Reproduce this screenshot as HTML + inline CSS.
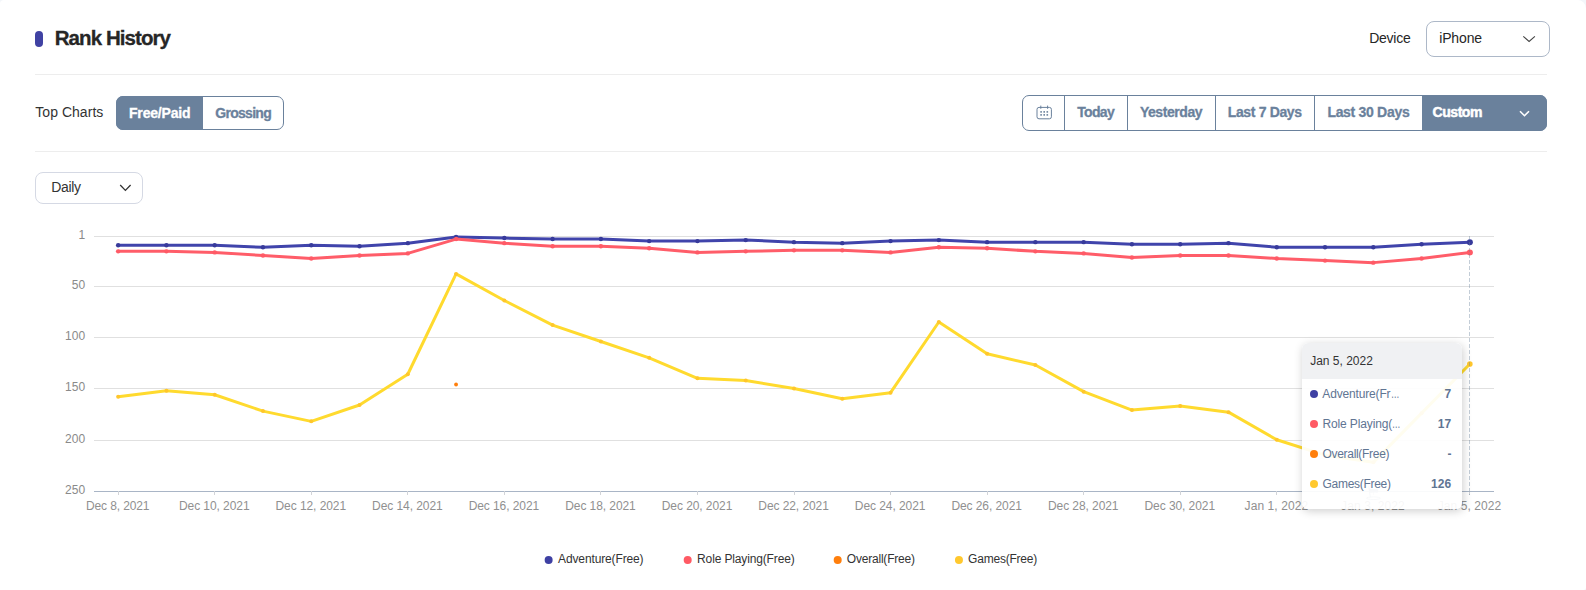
<!DOCTYPE html>
<html lang="en">
<head>
<meta charset="utf-8">
<title>Rank History</title>
<style>
html,body{margin:0;padding:0;}
body{width:1586px;height:590px;overflow:hidden;background:#f3f6fa;font-family:"Liberation Sans", sans-serif;position:relative;}
.card{position:absolute;left:0;top:0;width:1586px;height:590px;background:#fff;border-radius:4px 8.5px 3px 0;overflow:hidden;}
.t{position:absolute;white-space:nowrap;line-height:20px;font-family:"Liberation Sans", sans-serif;}
.abs{position:absolute;box-sizing:border-box;}
.hr{position:absolute;left:35px;width:1512px;height:1px;background:#ededed;}
.chart{position:absolute;left:0;top:0;}
.tooltip{position:absolute;left:1302px;top:343px;width:160px;height:166px;border-radius:6px;background:rgba(255,255,255,0.925);box-shadow:1px 2px 10px rgba(0,0,0,0.2);overflow:hidden;}
.tooltip .hd{position:absolute;left:0;top:0;width:160px;height:36px;background:rgba(240,241,243,0.98);}
.dot{position:absolute;width:8px;height:8px;border-radius:50%;}
</style>
</head>
<body>
<div class="card">
  <div class="abs" style="left:35px;top:31px;width:8px;height:16px;border-radius:4px;background:#4042a3;"></div>
  <div class="hr" style="top:74px;"></div>
  <div class="hr" style="top:151px;"></div>

  <!-- Top charts segmented -->
  <div class="abs" style="left:116px;top:96px;width:168px;height:34px;border:1px solid #6a819c;border-radius:7px;background:#fff;"></div>
  <div class="abs" style="left:116px;top:96px;width:87px;height:34px;border-radius:7px 0 0 7px;background:#6a819c;"></div>

  <!-- Daily select -->
  <div class="abs" style="left:35px;top:172px;width:108px;height:32px;border:1px solid #d5d9e4;border-radius:8px;background:#fff;"></div>
  <svg class="abs" style="left:118px;top:181px;" width="14" height="12" viewBox="0 0 14 12"><polyline points="2.2,4.0 7.4,9.4 12.6,4.0" fill="none" stroke="#333" stroke-width="1.3"/></svg>

  <!-- Device select -->
  <div class="abs" style="left:1426px;top:21px;width:124px;height:36px;border:1px solid #adb8c8;border-radius:8px;background:#fff;"></div>
  <svg class="abs" style="left:1521px;top:32px;" width="16" height="12" viewBox="0 0 16 12"><polyline points="2.3,4.3 8.1,9.5 13.9,4.3" fill="none" stroke="#444" stroke-width="1.1"/></svg>

  <!-- Date range group -->
  <div class="abs" style="left:1022px;top:95px;width:525px;height:36px;border:1px solid #6a819c;border-radius:7px;background:#fff;"></div>
  <div class="abs" style="left:1064px;top:95px;width:1px;height:36px;background:#6a819c;"></div>
  <div class="abs" style="left:1127px;top:95px;width:1px;height:36px;background:#6a819c;"></div>
  <div class="abs" style="left:1215px;top:95px;width:1px;height:36px;background:#6a819c;"></div>
  <div class="abs" style="left:1314px;top:95px;width:1px;height:36px;background:#6a819c;"></div>
  <div class="abs" style="left:1422px;top:95px;width:125px;height:36px;border-radius:0 7px 7px 0;background:#6a819c;"></div>
  <svg class="abs" style="left:1517px;top:107px;" width="16" height="12" viewBox="0 0 16 12"><polyline points="3,4.2 7.5,8.7 12,4.2" fill="none" stroke="#fff" stroke-width="1.6"/></svg>
  <svg class="abs" style="left:1034px;top:103px;" width="20" height="18" viewBox="0 0 20 18">
    <rect x="3" y="4.4" width="14.4" height="11.4" rx="2" ry="2" fill="none" stroke="#6a819c" stroke-width="1"/>
    <line x1="6.8" x2="6.8" y1="2.6" y2="5.8" stroke="#6a819c" stroke-width="1"/>
    <line x1="13.6" x2="13.6" y1="2.6" y2="5.8" stroke="#6a819c" stroke-width="1"/>
    <g fill="#6a819c">
      <rect x="6.3" y="8.1" width="1.6" height="1.6"/><rect x="9.4" y="8.1" width="1.6" height="1.6"/><rect x="12.5" y="8.1" width="1.6" height="1.6"/>
      <rect x="6.3" y="11.1" width="1.6" height="1.6"/><rect x="9.4" y="11.1" width="1.6" height="1.6"/><rect x="12.5" y="11.1" width="1.6" height="1.6"/>
    </g>
  </svg>

<svg class="chart" width="1586" height="590" viewBox="0 0 1586 590">
<line x1="94.0" x2="1494.0" y1="236.5" y2="236.5" stroke="#e0e0e0" stroke-width="1"/>
<line x1="94.0" x2="1494.0" y1="286.5" y2="286.5" stroke="#e0e0e0" stroke-width="1"/>
<line x1="94.0" x2="1494.0" y1="337.5" y2="337.5" stroke="#e0e0e0" stroke-width="1"/>
<line x1="94.0" x2="1494.0" y1="388.5" y2="388.5" stroke="#e0e0e0" stroke-width="1"/>
<line x1="94.0" x2="1494.0" y1="440.5" y2="440.5" stroke="#e0e0e0" stroke-width="1"/>
<line x1="94.0" x2="1494.0" y1="491.5" y2="491.5" stroke="#a9b5c6" stroke-width="1"/>
<line x1="118.5" x2="118.5" y1="491" y2="495" stroke="#d2d4d8" stroke-width="1"/>
<line x1="214.5" x2="214.5" y1="491" y2="495" stroke="#d2d4d8" stroke-width="1"/>
<line x1="311.5" x2="311.5" y1="491" y2="495" stroke="#d2d4d8" stroke-width="1"/>
<line x1="407.5" x2="407.5" y1="491" y2="495" stroke="#d2d4d8" stroke-width="1"/>
<line x1="504.5" x2="504.5" y1="491" y2="495" stroke="#d2d4d8" stroke-width="1"/>
<line x1="600.5" x2="600.5" y1="491" y2="495" stroke="#d2d4d8" stroke-width="1"/>
<line x1="697.5" x2="697.5" y1="491" y2="495" stroke="#d2d4d8" stroke-width="1"/>
<line x1="794.5" x2="794.5" y1="491" y2="495" stroke="#d2d4d8" stroke-width="1"/>
<line x1="890.5" x2="890.5" y1="491" y2="495" stroke="#d2d4d8" stroke-width="1"/>
<line x1="987.5" x2="987.5" y1="491" y2="495" stroke="#d2d4d8" stroke-width="1"/>
<line x1="1083.5" x2="1083.5" y1="491" y2="495" stroke="#d2d4d8" stroke-width="1"/>
<line x1="1180.5" x2="1180.5" y1="491" y2="495" stroke="#d2d4d8" stroke-width="1"/>
<line x1="1276.5" x2="1276.5" y1="491" y2="495" stroke="#d2d4d8" stroke-width="1"/>
<line x1="1373.5" x2="1373.5" y1="491" y2="495" stroke="#d2d4d8" stroke-width="1"/>
<line x1="1469.5" x2="1469.5" y1="491" y2="495" stroke="#d2d4d8" stroke-width="1"/>
<polyline points="118.14,245.22 166.41,245.22 214.69,245.22 262.97,247.27 311.24,245.22 359.52,246.24 407.79,243.17 456.07,237.02 504.34,238.05 552.62,239.07 600.90,239.07 649.17,241.12 697.45,241.12 745.72,240.10 794.00,242.14 842.28,243.17 890.55,241.12 938.83,240.10 987.10,242.14 1035.38,242.14 1083.66,242.14 1131.93,244.19 1180.21,244.19 1228.48,243.17 1276.76,247.27 1325.03,247.27 1373.31,247.27 1421.59,244.19 1469.86,242.14" fill="none" stroke="#4044ab" stroke-width="3" stroke-linejoin="bevel" stroke-linecap="butt"/>
<circle cx="118.14" cy="245.22" r="2.2" fill="#373a9b"/><circle cx="166.41" cy="245.22" r="2.2" fill="#373a9b"/><circle cx="214.69" cy="245.22" r="2.2" fill="#373a9b"/><circle cx="262.97" cy="247.27" r="2.2" fill="#373a9b"/><circle cx="311.24" cy="245.22" r="2.2" fill="#373a9b"/><circle cx="359.52" cy="246.24" r="2.2" fill="#373a9b"/><circle cx="407.79" cy="243.17" r="2.2" fill="#373a9b"/><circle cx="456.07" cy="237.02" r="2.2" fill="#373a9b"/><circle cx="504.34" cy="238.05" r="2.2" fill="#373a9b"/><circle cx="552.62" cy="239.07" r="2.2" fill="#373a9b"/><circle cx="600.90" cy="239.07" r="2.2" fill="#373a9b"/><circle cx="649.17" cy="241.12" r="2.2" fill="#373a9b"/><circle cx="697.45" cy="241.12" r="2.2" fill="#373a9b"/><circle cx="745.72" cy="240.10" r="2.2" fill="#373a9b"/><circle cx="794.00" cy="242.14" r="2.2" fill="#373a9b"/><circle cx="842.28" cy="243.17" r="2.2" fill="#373a9b"/><circle cx="890.55" cy="241.12" r="2.2" fill="#373a9b"/><circle cx="938.83" cy="240.10" r="2.2" fill="#373a9b"/><circle cx="987.10" cy="242.14" r="2.2" fill="#373a9b"/><circle cx="1035.38" cy="242.14" r="2.2" fill="#373a9b"/><circle cx="1083.66" cy="242.14" r="2.2" fill="#373a9b"/><circle cx="1131.93" cy="244.19" r="2.2" fill="#373a9b"/><circle cx="1180.21" cy="244.19" r="2.2" fill="#373a9b"/><circle cx="1228.48" cy="243.17" r="2.2" fill="#373a9b"/><circle cx="1276.76" cy="247.27" r="2.2" fill="#373a9b"/><circle cx="1325.03" cy="247.27" r="2.2" fill="#373a9b"/><circle cx="1373.31" cy="247.27" r="2.2" fill="#373a9b"/><circle cx="1421.59" cy="244.19" r="2.2" fill="#373a9b"/><circle cx="1469.86" cy="242.14" r="3.0" fill="#373a9b"/>
<polyline points="118.14,251.36 166.41,251.36 214.69,252.39 262.97,255.46 311.24,258.53 359.52,255.46 407.79,253.41 456.07,239.07 504.34,243.17 552.62,246.24 600.90,246.24 649.17,248.29 697.45,252.39 745.72,251.36 794.00,250.34 842.28,250.34 890.55,252.39 938.83,247.27 987.10,248.29 1035.38,251.36 1083.66,253.41 1131.93,257.51 1180.21,255.46 1228.48,255.46 1276.76,258.53 1325.03,260.58 1373.31,262.63 1421.59,258.53 1469.86,252.39" fill="none" stroke="#ff5d69" stroke-width="3" stroke-linejoin="bevel" stroke-linecap="butt"/>
<circle cx="118.14" cy="251.36" r="2.2" fill="#ff5a66"/><circle cx="166.41" cy="251.36" r="2.2" fill="#ff5a66"/><circle cx="214.69" cy="252.39" r="2.2" fill="#ff5a66"/><circle cx="262.97" cy="255.46" r="2.2" fill="#ff5a66"/><circle cx="311.24" cy="258.53" r="2.2" fill="#ff5a66"/><circle cx="359.52" cy="255.46" r="2.2" fill="#ff5a66"/><circle cx="407.79" cy="253.41" r="2.2" fill="#ff5a66"/><circle cx="456.07" cy="239.07" r="2.2" fill="#ff5a66"/><circle cx="504.34" cy="243.17" r="2.2" fill="#ff5a66"/><circle cx="552.62" cy="246.24" r="2.2" fill="#ff5a66"/><circle cx="600.90" cy="246.24" r="2.2" fill="#ff5a66"/><circle cx="649.17" cy="248.29" r="2.2" fill="#ff5a66"/><circle cx="697.45" cy="252.39" r="2.2" fill="#ff5a66"/><circle cx="745.72" cy="251.36" r="2.2" fill="#ff5a66"/><circle cx="794.00" cy="250.34" r="2.2" fill="#ff5a66"/><circle cx="842.28" cy="250.34" r="2.2" fill="#ff5a66"/><circle cx="890.55" cy="252.39" r="2.2" fill="#ff5a66"/><circle cx="938.83" cy="247.27" r="2.2" fill="#ff5a66"/><circle cx="987.10" cy="248.29" r="2.2" fill="#ff5a66"/><circle cx="1035.38" cy="251.36" r="2.2" fill="#ff5a66"/><circle cx="1083.66" cy="253.41" r="2.2" fill="#ff5a66"/><circle cx="1131.93" cy="257.51" r="2.2" fill="#ff5a66"/><circle cx="1180.21" cy="255.46" r="2.2" fill="#ff5a66"/><circle cx="1228.48" cy="255.46" r="2.2" fill="#ff5a66"/><circle cx="1276.76" cy="258.53" r="2.2" fill="#ff5a66"/><circle cx="1325.03" cy="260.58" r="2.2" fill="#ff5a66"/><circle cx="1373.31" cy="262.63" r="2.2" fill="#ff5a66"/><circle cx="1421.59" cy="258.53" r="2.2" fill="#ff5a66"/><circle cx="1469.86" cy="252.39" r="3.0" fill="#ff5a66"/>
<circle cx="456.07" cy="384.49" r="1.9" fill="#ff7f0c"/>
<polyline points="118.14,396.78 166.41,390.64 214.69,394.73 262.97,411.12 311.24,421.36 359.52,404.98 407.79,374.25 456.07,273.89 504.34,300.52 552.62,325.10 600.90,341.48 649.17,357.87 697.45,378.35 745.72,380.40 794.00,388.59 842.28,398.83 890.55,392.69 938.83,322.02 987.10,353.77 1035.38,365.04 1083.66,391.66 1131.93,410.10 1180.21,406.00 1228.48,412.14 1276.76,439.80 1325.03,455.16 1373.31,462.33 1421.59,413.17 1469.86,364.01" fill="none" stroke="#ffda2e" stroke-width="3" stroke-linejoin="bevel"/>
<circle cx="118.14" cy="396.78" r="2.0" fill="#ffc62c"/><circle cx="166.41" cy="390.64" r="2.0" fill="#ffc62c"/><circle cx="214.69" cy="394.73" r="2.0" fill="#ffc62c"/><circle cx="262.97" cy="411.12" r="2.0" fill="#ffc62c"/><circle cx="311.24" cy="421.36" r="2.0" fill="#ffc62c"/><circle cx="359.52" cy="404.98" r="2.0" fill="#ffc62c"/><circle cx="407.79" cy="374.25" r="2.0" fill="#ffc62c"/><circle cx="456.07" cy="273.89" r="2.0" fill="#ffc62c"/><circle cx="504.34" cy="300.52" r="2.0" fill="#ffc62c"/><circle cx="552.62" cy="325.10" r="2.0" fill="#ffc62c"/><circle cx="600.90" cy="341.48" r="2.0" fill="#ffc62c"/><circle cx="649.17" cy="357.87" r="2.0" fill="#ffc62c"/><circle cx="697.45" cy="378.35" r="2.0" fill="#ffc62c"/><circle cx="745.72" cy="380.40" r="2.0" fill="#ffc62c"/><circle cx="794.00" cy="388.59" r="2.0" fill="#ffc62c"/><circle cx="842.28" cy="398.83" r="2.0" fill="#ffc62c"/><circle cx="890.55" cy="392.69" r="2.0" fill="#ffc62c"/><circle cx="938.83" cy="322.02" r="2.0" fill="#ffc62c"/><circle cx="987.10" cy="353.77" r="2.0" fill="#ffc62c"/><circle cx="1035.38" cy="365.04" r="2.0" fill="#ffc62c"/><circle cx="1083.66" cy="391.66" r="2.0" fill="#ffc62c"/><circle cx="1131.93" cy="410.10" r="2.0" fill="#ffc62c"/><circle cx="1180.21" cy="406.00" r="2.0" fill="#ffc62c"/><circle cx="1228.48" cy="412.14" r="2.0" fill="#ffc62c"/><circle cx="1276.76" cy="439.80" r="2.0" fill="#ffc62c"/><circle cx="1325.03" cy="455.16" r="2.0" fill="#ffc62c"/><circle cx="1373.31" cy="462.33" r="2.0" fill="#ffc62c"/><circle cx="1421.59" cy="413.17" r="2.0" fill="#ffc62c"/><circle cx="1469.86" cy="364.01" r="2.8" fill="#ffc62c"/>
<line x1="1469.5" x2="1469.5" y1="236" y2="495" stroke="#6a819c" stroke-opacity="0.4" stroke-width="1" stroke-dasharray="4 2"/>
<g fill="#8fa0b6" stroke="none"><path d="M1368.2 486.3 L1369.2 486.1 L1370.9 497.2 L1369.9 497.4 Z"/><path d="M1369 488.2 C1372 489.6 1375 488.4 1378.6 489.6 L1377.4 493 C1374.5 492 1372 493.2 1369.8 492.6 Z"/><ellipse cx="1373.4" cy="498.2" rx="7" ry="1.3" fill="none" stroke="#8fa0b6" stroke-width="0.9"/></g>
<circle cx="548.65" cy="560" r="4" fill="#3e40a3"/>
<circle cx="687.7" cy="560" r="4" fill="#ff5a64"/>
<circle cx="837.7" cy="560" r="4" fill="#ff7f0c"/>
<circle cx="958.95" cy="560" r="4" fill="#ffc82e"/>
</svg>

<span class="t" style="left:54.70px;top:27.90px;font-size:20.5px;font-weight:700;color:#262626;letter-spacing:-0.923px;-webkit-text-stroke:0.3px #262626;">Rank History</span>
<span class="t" style="left:35.30px;top:102.35px;font-size:14px;font-weight:400;color:#333;letter-spacing:0.034px;">Top Charts</span>
<span class="t" style="left:129.00px;top:102.75px;font-size:14px;font-weight:700;color:#fff;letter-spacing:-0.184px;-webkit-text-stroke:0.3px #fff;">Free/Paid</span>
<span class="t" style="left:215.20px;top:102.75px;font-size:14px;font-weight:700;color:#6a819c;letter-spacing:-0.700px;-webkit-text-stroke:0.3px #6a819c;">Grossing</span>
<span class="t" style="left:51.20px;top:177.15px;font-size:14px;font-weight:400;color:#333;letter-spacing:-0.329px;">Daily</span>
<span class="t" style="left:1369.20px;top:28.35px;font-size:14px;font-weight:400;color:#262626;letter-spacing:-0.241px;">Device</span>
<span class="t" style="left:1439.20px;top:28.35px;font-size:14px;font-weight:400;color:#262626;letter-spacing:-0.141px;">iPhone</span>
<span class="t" style="left:1077.20px;top:102.35px;font-size:14px;font-weight:700;color:#6a819c;letter-spacing:-0.676px;-webkit-text-stroke:0.3px #6a819c;">Today</span>
<span class="t" style="left:1139.90px;top:102.35px;font-size:14px;font-weight:700;color:#6a819c;letter-spacing:-0.434px;-webkit-text-stroke:0.3px #6a819c;">Yesterday</span>
<span class="t" style="left:1227.70px;top:102.35px;font-size:14px;font-weight:700;color:#6a819c;letter-spacing:-0.343px;-webkit-text-stroke:0.3px #6a819c;">Last 7 Days</span>
<span class="t" style="left:1327.40px;top:102.35px;font-size:14px;font-weight:700;color:#6a819c;letter-spacing:-0.302px;-webkit-text-stroke:0.3px #6a819c;">Last 30 Days</span>
<span class="t" style="left:1432.60px;top:102.35px;font-size:14px;font-weight:700;color:#fff;letter-spacing:-0.472px;-webkit-text-stroke:0.5px #fff;">Custom</span>
<span class="t" style="left:78.40px;top:224.64px;font-size:12px;font-weight:400;color:#8a8a8a;letter-spacing:0.000px;">1</span>
<span class="t" style="left:71.73px;top:274.64px;font-size:12px;font-weight:400;color:#8a8a8a;letter-spacing:0.000px;">50</span>
<span class="t" style="left:65.05px;top:325.64px;font-size:12px;font-weight:400;color:#8a8a8a;letter-spacing:0.000px;">100</span>
<span class="t" style="left:65.05px;top:376.64px;font-size:12px;font-weight:400;color:#8a8a8a;letter-spacing:0.000px;">150</span>
<span class="t" style="left:65.05px;top:428.64px;font-size:12px;font-weight:400;color:#8a8a8a;letter-spacing:0.000px;">200</span>
<span class="t" style="left:65.05px;top:479.64px;font-size:12px;font-weight:400;color:#8a8a8a;letter-spacing:0.000px;">250</span>
<span class="t" style="left:85.94px;top:496.04px;font-size:12px;font-weight:400;color:#909090;letter-spacing:-0.114px;">Dec 8, 2021</span>
<span class="t" style="left:178.99px;top:496.04px;font-size:12px;font-weight:400;color:#909090;letter-spacing:-0.074px;">Dec 10, 2021</span>
<span class="t" style="left:275.54px;top:496.04px;font-size:12px;font-weight:400;color:#909090;letter-spacing:-0.074px;">Dec 12, 2021</span>
<span class="t" style="left:372.09px;top:496.04px;font-size:12px;font-weight:400;color:#909090;letter-spacing:-0.074px;">Dec 14, 2021</span>
<span class="t" style="left:468.64px;top:496.04px;font-size:12px;font-weight:400;color:#909090;letter-spacing:-0.074px;">Dec 16, 2021</span>
<span class="t" style="left:565.20px;top:496.04px;font-size:12px;font-weight:400;color:#909090;letter-spacing:-0.074px;">Dec 18, 2021</span>
<span class="t" style="left:661.75px;top:496.04px;font-size:12px;font-weight:400;color:#909090;letter-spacing:-0.074px;">Dec 20, 2021</span>
<span class="t" style="left:758.30px;top:496.04px;font-size:12px;font-weight:400;color:#909090;letter-spacing:-0.074px;">Dec 22, 2021</span>
<span class="t" style="left:854.85px;top:496.04px;font-size:12px;font-weight:400;color:#909090;letter-spacing:-0.074px;">Dec 24, 2021</span>
<span class="t" style="left:951.40px;top:496.04px;font-size:12px;font-weight:400;color:#909090;letter-spacing:-0.074px;">Dec 26, 2021</span>
<span class="t" style="left:1047.96px;top:496.04px;font-size:12px;font-weight:400;color:#909090;letter-spacing:-0.074px;">Dec 28, 2021</span>
<span class="t" style="left:1144.51px;top:496.04px;font-size:12px;font-weight:400;color:#909090;letter-spacing:-0.074px;">Dec 30, 2021</span>
<span class="t" style="left:1244.56px;top:496.04px;font-size:12px;font-weight:400;color:#909090;letter-spacing:0.086px;">Jan 1, 2022</span>
<span class="t" style="left:1341.11px;top:496.04px;font-size:12px;font-weight:400;color:#909090;letter-spacing:0.086px;">Jan 3, 2022</span>
<span class="t" style="left:1437.66px;top:496.04px;font-size:12px;font-weight:400;color:#909090;letter-spacing:0.086px;">Jan 5, 2022</span>
<span class="t" style="left:558.10px;top:549.14px;font-size:12px;font-weight:400;color:#333;letter-spacing:-0.134px;">Adventure(Free)</span>
<span class="t" style="left:697.10px;top:549.14px;font-size:12px;font-weight:400;color:#333;letter-spacing:-0.144px;">Role Playing(Free)</span>
<span class="t" style="left:846.80px;top:549.14px;font-size:12px;font-weight:400;color:#333;letter-spacing:-0.207px;">Overall(Free)</span>
<span class="t" style="left:968.10px;top:549.14px;font-size:12px;font-weight:400;color:#333;letter-spacing:-0.215px;">Games(Free)</span>

  <div class="tooltip">
    <div class="hd"></div>
  </div>
  <div class="dot" style="left:1310px;top:390px;background:#3e40a3;"></div>
  <div class="dot" style="left:1310px;top:420px;background:#ff5a64;"></div>
  <div class="dot" style="left:1310px;top:450px;background:#ff7f0c;"></div>
  <div class="dot" style="left:1310px;top:480px;background:#ffc82e;"></div>
<span class="t" style="left:1310.20px;top:350.74px;font-size:12px;font-weight:400;color:#333;letter-spacing:-0.004px;">Jan 5, 2022</span>
<span class="t" style="left:1322.30px;top:383.84px;font-size:12px;font-weight:400;color:#5f7593;letter-spacing:-0.157px;">Adventure(Fr</span>
<span class="t" style="left:1390.80px;top:383.84px;font-size:12px;font-weight:400;color:#5f7593;letter-spacing:0.000px;display:inline-block;transform-origin:0 50%;transform:scaleX(0.700);">…</span>
<span class="t" style="left:1322.50px;top:413.84px;font-size:12px;font-weight:400;color:#5f7593;letter-spacing:-0.131px;">Role Playing(</span>
<span class="t" style="left:1392.30px;top:413.84px;font-size:12px;font-weight:400;color:#5f7593;letter-spacing:0.000px;display:inline-block;transform-origin:0 50%;transform:scaleX(0.700);">…</span>
<span class="t" style="left:1322.50px;top:443.84px;font-size:12px;font-weight:400;color:#5f7593;letter-spacing:-0.307px;">Overall(Free)</span>
<span class="t" style="left:1322.50px;top:473.84px;font-size:12px;font-weight:400;color:#5f7593;letter-spacing:-0.285px;">Games(Free)</span>
<span class="t" style="left:1444.40px;top:383.84px;font-size:12px;font-weight:700;color:#5f7593;letter-spacing:0.000px;">7</span>
<span class="t" style="left:1437.73px;top:413.84px;font-size:12px;font-weight:700;color:#5f7593;letter-spacing:0.000px;">17</span>
<span class="t" style="left:1447.40px;top:443.84px;font-size:12px;font-weight:700;color:#5f7593;letter-spacing:0.000px;">-</span>
<span class="t" style="left:1431.05px;top:473.84px;font-size:12px;font-weight:700;color:#5f7593;letter-spacing:0.000px;">126</span>
</div>
</body>
</html>
